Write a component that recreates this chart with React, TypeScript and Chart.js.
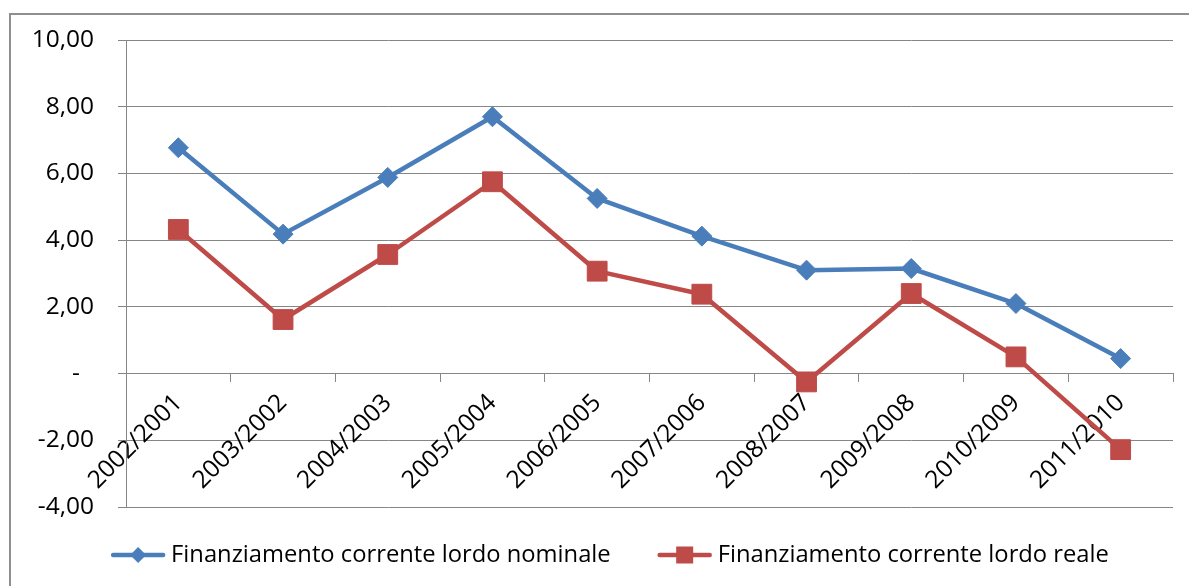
import { useEffect, useRef } from "react";
import { Chart, registerables } from "chart.js";

Chart.register(...registerables);

const categories = [
  "2002/2001",
  "2003/2002",
  "2004/2003",
  "2005/2004",
  "2006/2005",
  "2007/2006",
  "2008/2007",
  "2009/2008",
  "2010/2009",
  "2011/2010",
];
const nominale = [6.77, 4.18, 5.88, 7.7, 5.25, 4.12, 3.1, 3.15, 2.1, 0.45];
const reale = [4.32, 1.62, 3.57, 5.75, 3.07, 2.38, -0.25, 2.4, 0.5, -2.28];
const seriesLabels = [
  "Finanziamento corrente lordo nominale",
  "Finanziamento corrente lordo reale",
];
const yMin = -4;
const yMax = 10;
const yStep = 2;

const FONT = "'Open Sans', 'DejaVu Sans', sans-serif";
const FONT_SIZE = 23.75;
const TICK_FONT_SIZE = 24.5;
const GRID = "#868686";
const BLUE = "#4A7EBB";
const RED = "#BE4B48";

const fmt = (v: number) =>
  Math.abs(v) < 1e-9 ? "-\u2007" : v.toFixed(2).replace(".", ",");

const framePlugin = {
  id: "frame",
  beforeDraw(chart: any) {
    const ctx = chart.ctx;
    ctx.save();
    ctx.strokeStyle = "#8f8f8f";
    ctx.lineWidth = 2;
    ctx.beginPath();
    ctx.moveTo(10, chart.height);
    ctx.lineTo(10, 14);
    ctx.lineTo(chart.width, 14);
    ctx.stroke();
    ctx.restore();
  },
};

const legendPlugin = {
  id: "excelLegend",
  afterDraw(chart: any) {
    const ctx = chart.ctx;
    ctx.save();
    ctx.font = `${FONT_SIZE}px ${FONT}`;
    const sample = 54;
    const gapText = 6;
    const gapItem = 47;
    const centerX = 610;
    const cy = 555;
    const items = chart.data.datasets.map((ds: any) => ({
      ds,
      tw: ctx.measureText(ds.label).width,
    }));
    const total =
      items.reduce((s: number, it: any) => s + sample + gapText + it.tw, 0) +
      gapItem * (items.length - 1);
    let x = centerX - total / 2;
    items.forEach(({ ds, tw }: any) => {
      ctx.strokeStyle = ds.borderColor;
      ctx.lineWidth = ds.borderWidth;
      ctx.lineCap = "round";
      ctx.beginPath();
      ctx.moveTo(x + 2, cy);
      ctx.lineTo(x + sample - 2, cy);
      ctx.stroke();
      const mx = x + sample / 2;
      ctx.fillStyle = ds.backgroundColor;
      ctx.beginPath();
      if (ds.pointStyle === "rectRot") {
        const r = 8;
        ctx.moveTo(mx - r, cy);
        ctx.lineTo(mx, cy - r);
        ctx.lineTo(mx + r, cy);
        ctx.lineTo(mx, cy + r);
        ctx.closePath();
      } else {
        const h = 8.5;
        ctx.rect(mx - h, cy - h, 2 * h, 2 * h);
      }
      ctx.fill();
      ctx.fillStyle = "#000";
      ctx.textAlign = "left";
      ctx.textBaseline = "middle";
      ctx.fillText(ds.label, x + sample + gapText, cy);
      x += sample + gapText + tw + gapItem;
    });
    ctx.restore();
  },
};

export default function App() {
  const ref = useRef<HTMLCanvasElement | null>(null);
  useEffect(() => {
    if (!ref.current) return;
    Chart.defaults.font.family = FONT;
    Chart.defaults.font.size = FONT_SIZE;
    Chart.defaults.color = "#000";
    const chart = new Chart(ref.current, {
      type: "line",
      data: {
        labels: categories,
        datasets: [
          {
            label: seriesLabels[0],
            data: nominale,
            borderColor: BLUE,
            backgroundColor: BLUE,
            borderWidth: 4.5,
            borderJoinStyle: "round",
            borderCapStyle: "round",
            pointStyle: "rectRot",
            pointRadius: 10,
            pointBorderWidth: 1,
            pointBackgroundColor: BLUE,
            pointBorderColor: BLUE,
            tension: 0,
          },
          {
            label: seriesLabels[1],
            data: reale,
            borderColor: RED,
            backgroundColor: RED,
            borderWidth: 4.5,
            borderJoinStyle: "round",
            borderCapStyle: "round",
            pointStyle: "rect",
            pointRadius: 14,
            pointBorderWidth: 1,
            pointBackgroundColor: RED,
            pointBorderColor: RED,
            tension: 0,
          },
        ],
      },
      options: {
        animation: false,
        responsive: false,
        layout: { padding: { left: 0, right: 16, top: 40, bottom: 79 } },
        plugins: {
          legend: { display: false },
          tooltip: { enabled: false },
        },
        scales: {
          x: {
            type: "category",
            position: { y: 0 } as any,
            offset: true,
            grid: {
              offset: true,
              drawOnChartArea: false,
              drawTicks: true,
              tickLength: 8,
              color: GRID,
              lineWidth: 1,
            },
            border: { display: true, color: GRID, width: 1 },
            ticks: {
              minRotation: 45,
              maxRotation: 45,
              autoSkip: false,
              padding: 7,
              color: "#000",
              font: { size: TICK_FONT_SIZE, family: FONT },
            },
            afterFit: (s: any) => {
              s.paddingLeft = 0;
              s.paddingRight = 0;
            },
          },
          y: {
            min: yMin,
            max: yMax,
            grid: {
              color: GRID,
              lineWidth: 1,
              drawTicks: true,
              tickLength: 8,
            },
            border: { display: true, color: GRID, width: 1 },
            ticks: {
              stepSize: yStep,
              padding: 24,
              color: "#000",
              font: { size: TICK_FONT_SIZE, family: FONT },
              callback: (v: any) => fmt(Number(v)),
            },
            afterFit: (s: any) => {
              s.width = 126;
            },
          },
        },
      },
      plugins: [framePlugin, legendPlugin],
    });
    return () => chart.destroy();
  }, []);
  return (
    <div style={{ position: "absolute", left: 0, top: 0, width: 1189, height: 586 }}>
      <canvas ref={ref} width={1189} height={586} style={{ display: "block" }} />
    </div>
  );
}
